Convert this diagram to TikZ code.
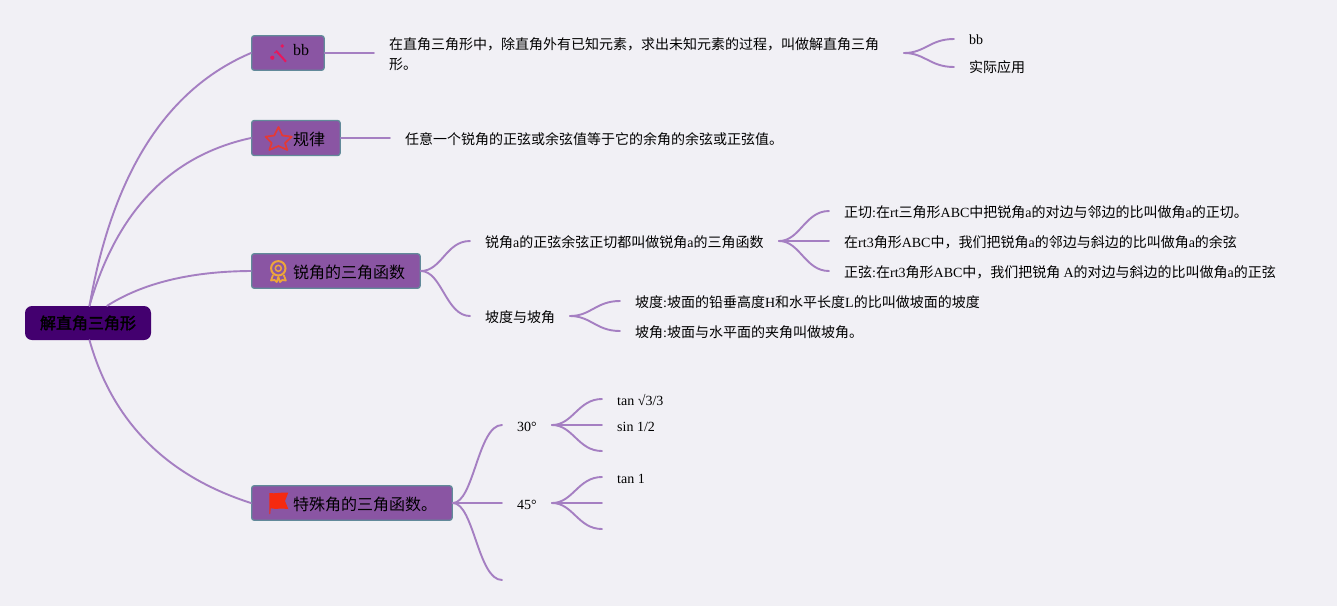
\documentclass[tikz,border=0pt]{standalone}
\usepackage{fontspec}
\setmainfont{Liberation Serif}
\newfontfamily\cjk{Noto Sans CJK SC}
\newfontfamily\cjkb[FakeBold=2.2]{Noto Sans CJK SC}
\newcommand{\C}[1]{{\cjk #1}}
\definecolor{bgc}{HTML}{F1F0F5}
\definecolor{linec}{HTML}{A57FC2}
\definecolor{topicc}{HTML}{8A55A3}
\definecolor{topicb}{HTML}{628A9A}
\definecolor{rootc}{HTML}{43006F}
\definecolor{iconw}{HTML}{E8175D}
\definecolor{icons}{HTML}{E53935}
\definecolor{iconm}{HTML}{EDA63A}
\definecolor{iconf}{HTML}{F52A10}
\tikzset{
  link/.style={draw=linec,line width=1.9pt,line cap=round},
  topic/.style={draw=topicb,line width=1.3pt,fill=topicc,rounded corners=2.5pt,anchor=west,
    minimum height=34.5pt,inner sep=0pt},
  topictext/.style={anchor=west,inner sep=0pt,font=\fontsize{16}{20}\selectfont},
  rootbox/.style={fill=rootc,rounded corners=7pt,minimum width=126pt,minimum height=34pt,inner sep=0pt,
    font=\fontsize{16}{20}\selectfont\cjkb},
  leaf/.style={anchor=west,inner xsep=15pt,inner ysep=0pt,text height=16pt,text depth=3pt,
    font=\fontsize{14}{20}\selectfont,align=left},
}
\newcommand{\scurve}[2]{.. controls +(#1*0.42,0) and +(-#1*0.48,0) .. (#2)}
\begin{document}
\begin{tikzpicture}[x=1pt,y=-1pt]
\path[use as bounding box,fill=bgc] (0,0) rectangle (1337,606);
% root
\node[rootbox] (root) at (88,323) {解直角三角形};
% topics
\node[topic,minimum width=72.5pt] (t1) at (251,53) {};
\node[topic,minimum width=88.5pt,minimum height=35pt] (t2) at (251,138) {};
\node[topic,minimum width=168.5pt] (t3) at (251,271) {};
\node[topic,minimum width=200.5pt] (t4) at (251,503) {};
\node[topictext] (t1x) at (293,50) {bb};
\node[topictext] (t2x) at (293,139) {\C{规律}};
\node[topictext] (t3x) at (293,272) {\C{锐角的三角函数}};
\node[topictext] (t4x) at (293,504) {\C{特殊角的三角函数。}};
% leaves
\node[leaf,text height=0pt,text depth=7pt] (def) at (374,53)
  {\rlap{\raisebox{-20pt}[0pt][0pt]{\C{形。}}}\C{在直角三角形中，除直角外有已知元素，求出未知元素的过程，叫做解直角三角}};
\node[leaf,text height=13.5pt] (d1) at (954,39) {bb};
\node[leaf,text height=14pt] (d2) at (954,67) {\C{实际应用}};
\node[leaf] (law) at (390,138) {\C{任意一个锐角的正弦或余弦值等于它的余角的余弦或正弦值。}};
\node[leaf,text height=15pt] (a1) at (470,241) {\C{锐角}a\C{的正弦余弦正切都叫做锐角}a\C{的三角函数}};
\node[leaf] (a2) at (470,316) {\C{坡度与坡角}};
\node[leaf] (b1) at (829,211) {\C{正切}:\C{在}rt\C{三角形}ABC\C{中把锐角}a\C{的对边与邻边的比叫做角}a\C{的正切。}};
\node[leaf] (b2) at (829,241) {\C{在}rt3\C{角形}ABC\C{中，我们把锐角}a\C{的邻边与斜边的比叫做角}a\C{的余弦}};
\node[leaf] (b3) at (829,271) {\C{正弦}:\C{在}rt3\C{角形}ABC\C{中，我们把锐角 }A\C{的对边与斜边的比叫做角}a\C{的正弦}};
\node[leaf] (c1) at (620,301) {\C{坡度}:\C{坡面的铅垂高度}H\C{和水平长度}L\C{的比叫做坡面的坡度}};
\node[leaf] (c2) at (620,331) {\C{坡角}:\C{坡面与水平面的夹角叫做坡角。}};
\node[leaf] (s30) at (502,425) {30°};
\node[leaf] (s45) at (502,503) {45°};
\coordinate (s60) at (502,580);
\node[leaf,text height=15pt] (v1) at (602,399) {tan √3/3};
\node[leaf] (v2) at (602,425) {sin 1/2};
\coordinate (v3) at (602,451);
\node[leaf] (w1) at (602,477) {tan 1};
\coordinate (w2) at (602,503);
\coordinate (w3) at (602,529);
% anchors of branch starts
\coordinate (dE) at (904,53);
\coordinate (a1E) at (779,241);
\coordinate (a2E) at (570,316);
\coordinate (s30E) at (552,425);
\coordinate (s45E) at (552,503);
% root connectors
\draw[link] (root.85) .. controls (112.7,173.3) and (166.3,89) .. (t1.west);
\draw[link] (root.85) .. controls (116.7,211.3) and (170.3,155.5) .. (t2.west);
\draw[link] (root.42) .. controls (143,283) and (191,271.3) .. (t3.west);
\draw[link] (root.-85) .. controls (112.3,421.3) and (166,475.8) .. (t4.west);
% second level
\draw[link] (t1.east) -- (def.west);
\draw[link] (t2.east) -- (law.west);
\draw[link] (t3.east) \scurve{50}{a1.west};
\draw[link] (t3.east) \scurve{50}{a2.west};
\draw[link] (t4.east) \scurve{50}{s30.west};
\draw[link] (t4.east) -- (s45.west);
\draw[link] (t4.east) \scurve{50}{s60};
% third level
\draw[link] (dE) \scurve{50}{d1.west};
\draw[link] (dE) \scurve{50}{d2.west};
\draw[link] (a1E) \scurve{50}{b1.west};
\draw[link] (a1E) -- (b2.west);
\draw[link] (a1E) \scurve{50}{b3.west};
\draw[link] (a2E) \scurve{50}{c1.west};
\draw[link] (a2E) \scurve{50}{c2.west};
\draw[link] (s30E) \scurve{50}{v1.west};
\draw[link] (s30E) -- (v2.west);
\draw[link] (s30E) \scurve{50}{v3};
\draw[link] (s45E) \scurve{50}{w1.west};
\draw[link] (s45E) -- (w2);
\draw[link] (s45E) \scurve{50}{w3};
% icons
\draw[line width=2pt,color=iconw] (276,50.7) -- (286,61.7);
\fill[iconw] (282.3,46) circle (1.9) (272.3,57.7) circle (2.1) (275,52.5) circle (1);
\draw[line width=1.7pt,icons,line join=round]
  (278.5,127) -- (282.3,135.5) -- (291.7,136.7) -- (285,143) -- (287.3,150) -- (278.5,146) -- (269.3,150) -- (271.7,143) -- (265.5,136.7) -- (274.3,135.5) -- cycle;
\draw[line width=2pt,iconm] (278.3,268.3) circle (7.2);
\draw[line width=1.5pt,iconm] (278.3,268.3) circle (3);
\draw[line width=1.8pt,iconm,line join=round] (273,275) -- (271,280.5) -- (274.5,280) -- (276.8,282) -- (278.3,277) -- (280,282) -- (282.3,280) -- (285.8,280.5) -- (283.8,275);
\fill[iconf] (269.3,493) .. controls (275,494) and (282,492) .. (288.3,492.5) -- (285,501) -- (288.3,509) .. controls (282,508) and (276,509.5) .. (270.7,508.3) -- (270.2,514) -- (269.3,514) -- cycle;
\end{tikzpicture}
\end{document}
